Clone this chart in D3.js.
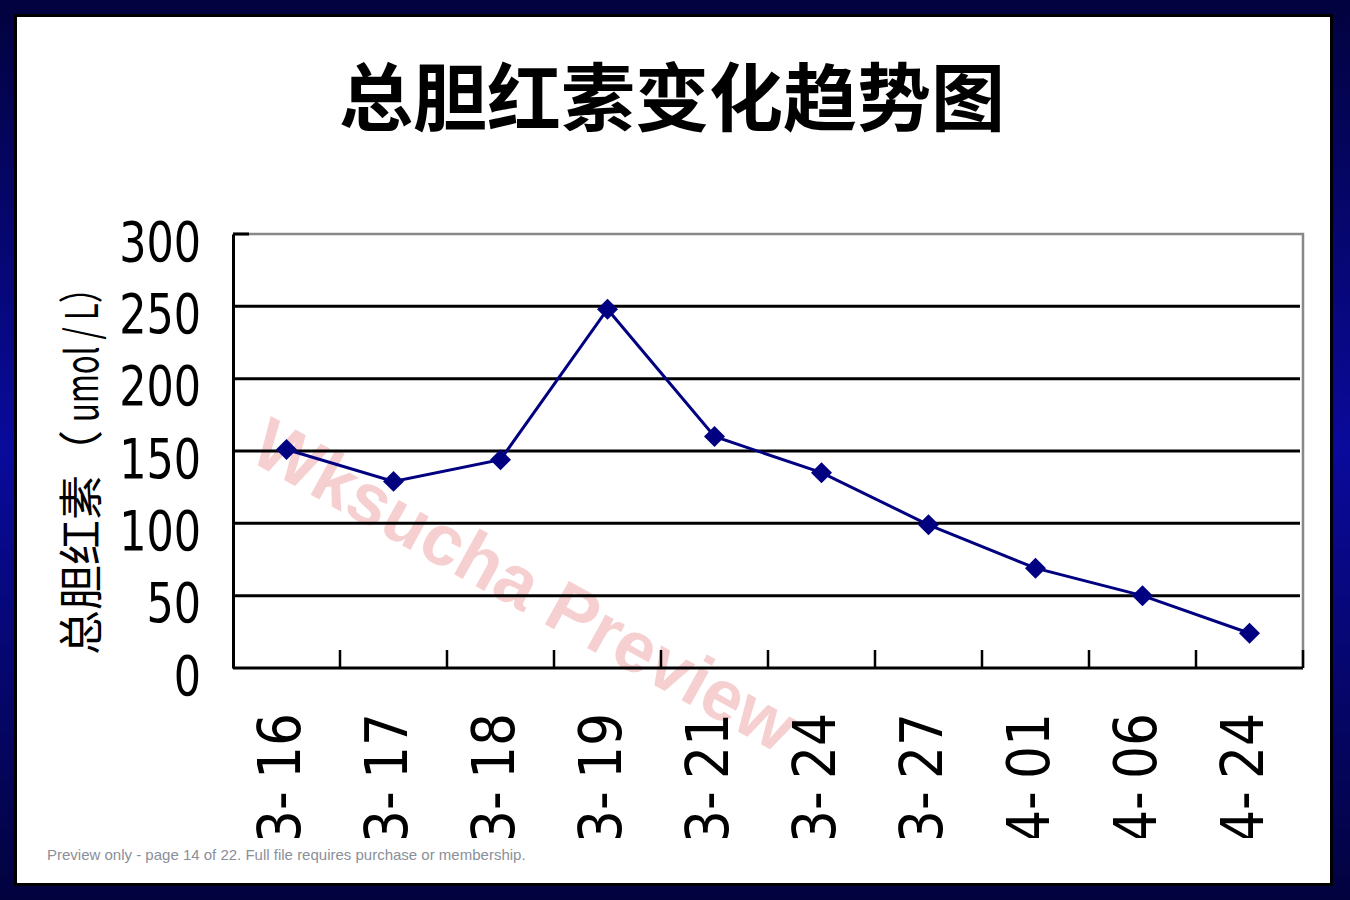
<!DOCTYPE html>
<html>
<head>
<meta charset="utf-8">
<script src="https://cdn.jsdelivr.net/npm/d3@7"></script>
<style>
  body { margin: 0; padding: 0; overflow: hidden; }
  svg { display: block; }
</style>
</head>
<body>
<svg id="chart"></svg>
<script>
// chart data
const dates = ["3- 16", "3- 17", "3- 18", "3- 19", "3- 21", "3- 24", "3- 27", "4- 01", "4- 06", "4- 24"];
const bilirubin = [151, 129, 144, 248, 160, 135, 99, 69, 50, 24];
const yTicks = [0, 50, 100, 150, 200, 250, 300];

let width = 1350;
let height = 900;

// plot area in page pixels
let margin = { top: 234, right: 47, bottom: 232, left: 233 };

let svg = d3.select("#chart")
    .attr("width", width)
    .attr("height", height);

// navy background with a lighter band in the middle
let defs = svg.append("defs");
let grad = defs.append("linearGradient")
    .attr("id", "bg")
    .attr("x1", 0).attr("y1", 0)
    .attr("x2", 0).attr("y2", 1);
grad.append("stop").attr("offset", "0%").attr("stop-color", "#02023f");
grad.append("stop").attr("offset", "50%").attr("stop-color", "#0a0a9c");
grad.append("stop").attr("offset", "100%").attr("stop-color", "#02023f");

defs.append("clipPath").attr("id", "labelClip")
    .append("rect")
    .attr("x", 0).attr("y", 0)
    .attr("width", width).attr("height", 838);

svg.append("rect")
    .attr("width", width)
    .attr("height", height)
    .attr("fill", "url(#bg)");

// slide frame
svg.append("rect")
    .attr("x", 15.5).attr("y", 15.5)
    .attr("width", 1316).attr("height", 869)
    .attr("fill", "#ffffff")
    .attr("stroke", "#000000")
    .attr("stroke-width", 3);

// title
svg.append("text")
    .attr("x", 672)
    .attr("y", 125)
    .attr("text-anchor", "middle")
    .style("font-family", "'Noto Sans CJK SC', sans-serif")
    .style("font-weight", "bold")
    .style("font-size", "74px")
    .text("总胆红素变化趋势图");

// scales
let xScale = d3.scaleBand()
    .domain(dates)
    .range([margin.left, width - margin.right])
    .paddingInner(0)
    .paddingOuter(0);

let yScale = d3.scaleLinear()
    .domain([0, 300])
    .range([height - margin.bottom, margin.top]);

let plotLeft = margin.left;
let plotRight = width - margin.right;
let plotTop = margin.top;
let plotBottom = height - margin.bottom;

// watermark sits behind the chart lines
svg.append("text")
    .attr("transform", "translate(522, 590) rotate(29)")
    .attr("text-anchor", "middle")
    .attr("dominant-baseline", "middle")
    .style("font-family", "'Liberation Sans', Arial, sans-serif")
    .style("font-weight", "bold")
    .style("font-size", "72px")
    .attr("fill", "#f6d0d0")
    .text("Wksucha Preview");

// horizontal gridlines
svg.selectAll(".grid")
    .data(yTicks.filter(d => d > 0 && d < 300))
    .enter().append("line")
    .attr("class", "grid")
    .attr("x1", plotLeft)
    .attr("x2", plotRight - 3)
    .attr("y1", d => yScale(d))
    .attr("y2", d => yScale(d))
    .attr("stroke", "#000000")
    .attr("stroke-width", 3);

// gray top / right frame
svg.append("path")
    .attr("d", `M${plotLeft},${plotTop}H${plotRight}V${plotBottom}`)
    .attr("fill", "none")
    .attr("stroke", "#888888")
    .attr("stroke-width", 2.5);

// short black tick at 300
svg.append("line")
    .attr("x1", plotLeft).attr("x2", plotLeft + 16)
    .attr("y1", yScale(300)).attr("y2", yScale(300))
    .attr("stroke", "#000000")
    .attr("stroke-width", 3);

// y axis line
let yAxis = svg.append("g")
    .attr("transform", `translate(${plotLeft}, 0)`)
    .call(d3.axisLeft(yScale).tickValues(yTicks).tickSize(0).tickFormat(""));
yAxis.select(".domain")
    .attr("stroke", "#000000")
    .attr("stroke-width", 3);

// y tick labels, squeezed like the source
svg.selectAll(".ylabel")
    .data(yTicks)
    .enter().append("text")
    .attr("class", "ylabel")
    .attr("transform", d => `translate(201, ${yScale(d) + 7}) scale(0.78, 1)`)
    .attr("text-anchor", "end")
    .attr("dy", "0.36em")
    .style("font-family", "'DejaVu Sans', sans-serif")
    .style("font-size", "55px")
    .attr("fill", "#000000")
    .text(d => d);

// x axis: ticks between categories, pointing up
let xAxis = svg.append("g")
    .attr("transform", `translate(0, ${plotBottom})`);
xAxis.append("line")
    .attr("x1", plotLeft).attr("x2", plotRight)
    .attr("y1", 0).attr("y2", 0)
    .attr("stroke", "#000000")
    .attr("stroke-width", 3);
xAxis.selectAll(".xtick")
    .data(dates)
    .enter().append("line")
    .attr("class", "xtick")
    .attr("x1", d => xScale(d) + xScale.bandwidth())
    .attr("x2", d => xScale(d) + xScale.bandwidth())
    .attr("y1", 0).attr("y2", -18)
    .attr("stroke", "#000000")
    .attr("stroke-width", 2.5);

// rotated date labels, clipped at the bottom like the source
svg.append("g")
    .attr("clip-path", "url(#labelClip)")
    .selectAll(".xlabel")
    .data(dates)
    .enter().append("text")
    .attr("class", "xlabel")
    .attr("transform", d => `translate(${xScale(d) + xScale.bandwidth() / 2 + 13.5}, 713) rotate(-90) scale(0.88, 1)`)
    .attr("text-anchor", "end")
    .style("font-family", "'DejaVu Sans', sans-serif")
    .style("font-size", "59px")
    .style("word-spacing", "-5px")
    .attr("fill", "#000000")
    .text(d => d);

// y axis title: Chinese part, then the squeezed unit
let yTitle = svg.append("g")
    .attr("transform", "translate(98, 655) rotate(-90)")
    .style("font-family", "'Noto Sans CJK SC', sans-serif")
    .style("font-size", "45px")
    .attr("fill", "#000000");
yTitle.append("text")
    .attr("x", 0)
    .text("总胆红素（");
yTitle.append("text")
    .attr("x", 233)
    .attr("textLength", 150)
    .attr("lengthAdjust", "spacingAndGlyphs")
    .text("umol / L）");

// line
let line = d3.line()
    .x((d, i) => xScale(dates[i]) + xScale.bandwidth() / 2)
    .y(d => yScale(d));

svg.append("path")
    .datum(bilirubin)
    .attr("d", line)
    .attr("fill", "none")
    .attr("stroke", "#000080")
    .attr("stroke-width", 3);

// diamond markers
svg.selectAll(".marker")
    .data(bilirubin)
    .enter().append("path")
    .attr("class", "marker")
    .attr("d", d3.symbol().type(d3.symbolDiamond2).size(280))
    .attr("transform", (d, i) => `translate(${xScale(dates[i]) + xScale.bandwidth() / 2}, ${yScale(d)})`)
    .attr("fill", "#000080");

// footer note
svg.append("text")
    .attr("x", 47)
    .attr("y", 860)
    .style("font-family", "'Liberation Sans', Arial, sans-serif")
    .style("font-size", "15px")
    .attr("fill", "#8a8f99")
    .text("Preview only - page 14 of 22. Full file requires purchase or membership.");
</script>
</body>
</html>
